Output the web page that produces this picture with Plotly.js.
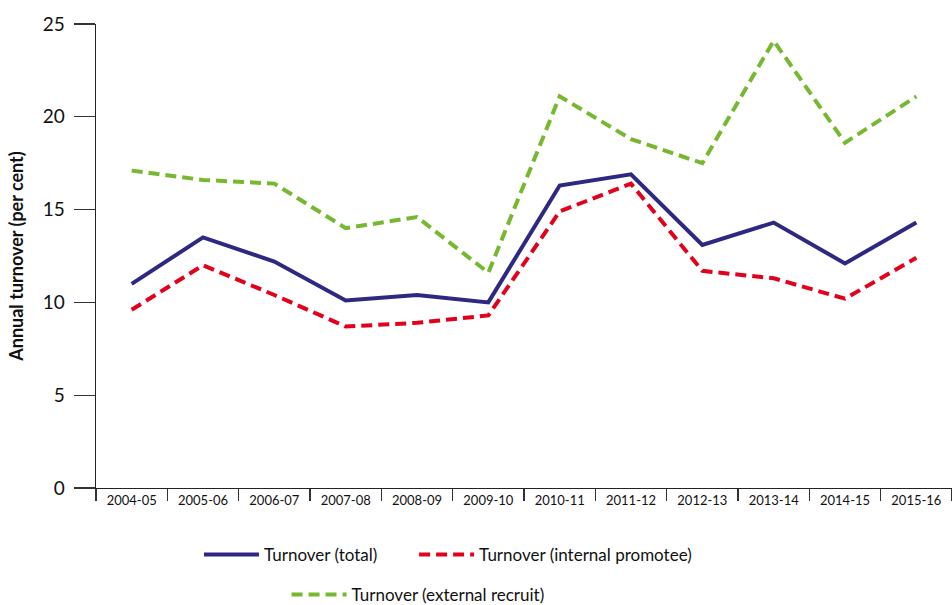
<!DOCTYPE html>
<html>
<head>
<meta charset="utf-8">
<script src="https://cdn.plot.ly/plotly-3.0.1.min.js"></script>
<style>html,body{margin:0;padding:0;background:#fff;}#chart{width:952px;height:605px;}</style>
</head>
<body>
<div id="chart"></div>
<script>
const years = ["2004-05","2005-06","2006-07","2007-08","2008-09","2009-10","2010-11","2011-12","2012-13","2013-14","2014-15","2015-16"];
const turnoverTotal    = [11.0, 13.5, 12.2, 10.1, 10.4, 10.0, 16.3, 16.9, 13.1, 14.3, 12.1, 14.3];
const turnoverInternal = [9.6, 12.0, 10.4, 8.7, 8.9, 9.3, 14.9, 16.4, 11.7, 11.3, 10.2, 12.4];
const turnoverExternal = [17.1, 16.6, 16.4, 14.0, 14.6, 11.6, 21.1, 18.8, 17.5, 24.1, 18.6, 21.1];

const FONT = "Lato, 'Open Sans', sans-serif";

const traces = [
  {x: years, y: turnoverTotal, type: "scatter", mode: "lines", name: "Turnover (total)",
   line: {color: "#2e2883", width: 4}, legend: "legend"},
  {x: years, y: turnoverInternal, type: "scatter", mode: "lines", name: "Turnover (internal promotee)",
   line: {color: "#e3001b", width: 4, dash: "11px,6px"}, legend: "legend3"},
  {x: years, y: turnoverExternal, type: "scatter", mode: "lines", name: "Turnover (external recruit)",
   line: {color: "#76b82f", width: 4, dash: "11px,6px"}, legend: "legend2"}
];

function legendAt(x, y) {
  return {
    orientation: "h", xref: "container", yref: "container",
    x: x, xanchor: "left", y: y, yanchor: "middle",
    font: {family: FONT, size: 17, color: "#111"}, itemwidth: 55,
    bgcolor: "rgba(0,0,0,0)", borderwidth: 0
  };
}

const layout = {
  width: 952, height: 605,
  margin: {l: 96, r: 0, t: 24, b: 117},
  paper_bgcolor: "#fff", plot_bgcolor: "#fff",
  font: {family: FONT, color: "#111"},
  showlegend: true,
  xaxis: {
    type: "category", range: [-0.5, 11.5], tickson: "boundaries",
    showline: true, linecolor: "#222", linewidth: 1.3,
    ticks: "outside", ticklen: 12, tickcolor: "#333", tickwidth: 1.3,
    showgrid: false, zeroline: false,
    tickfont: {family: FONT, size: 13, color: "#111"}, automargin: false
  },
  yaxis: {
    range: [0, 25], tickvals: [0, 5, 10, 15, 20, 25],
    showline: true, linecolor: "#222", linewidth: 1.3,
    ticks: "outside", ticklen: 21, tickcolor: "#333", tickwidth: 1.3,
    showgrid: false, zeroline: false, ticklabelstandoff: 5,
    tickfont: {family: FONT, size: 19, color: "#111"}, automargin: false,
    title: {text: "<b>Annual turnover (per cent)</b>", font: {family: FONT, size: 18, color: "#111"}, standoff: 14}
  },
  legend: legendAt(0.209, 0.0826),
  legend3: legendAt(0.435, 0.0826),
  legend2: legendAt(0.301, 0.0165)
};

Plotly.newPlot("chart", traces, layout, {displayModeBar: false, staticPlot: true});
</script>
</body>
</html>
